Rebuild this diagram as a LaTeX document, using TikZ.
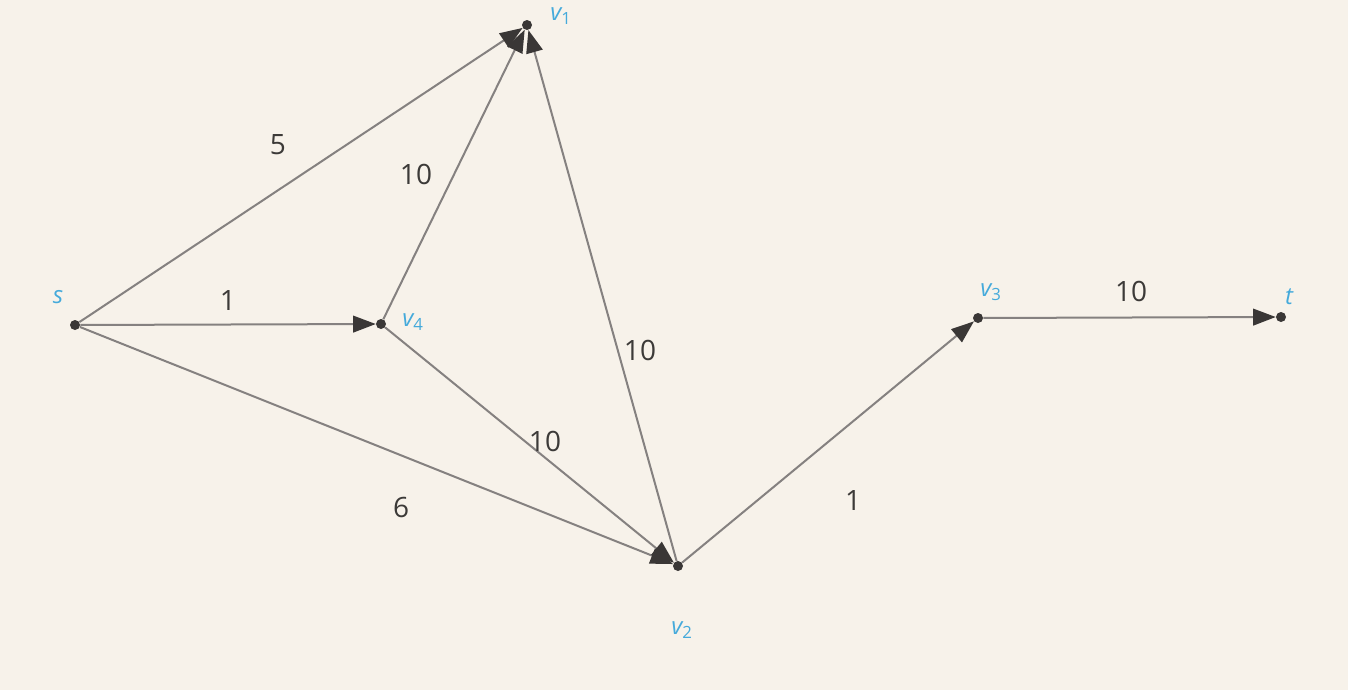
\documentclass[tikz,border=0pt]{standalone}
\usepackage{fontspec}
\setmainfont{Open Sans}
\usetikzlibrary{arrows.meta}
\definecolor{paper}{HTML}{F7F2EA}
\definecolor{edgec}{HTML}{858180}
\definecolor{tipc}{HTML}{3A3736}
\definecolor{lblc}{HTML}{3C3A38}
\definecolor{vlab}{HTML}{45AADB}
\begin{document}
\begin{tikzpicture}[x=0.75pt,y=-0.75pt,
  vert/.style={circle,fill=tipc,inner sep=0pt,minimum size=7.5pt},
  edge/.style={draw=edgec,line width=1.5pt,-{Triangle[length=17pt,width=12.5pt,fill=tipc,color=tipc]}},
  wlab/.style={text=lblc,font=\fontsize{21}{24}\selectfont},
  vlabs/.style={text=vlab,font=\fontsize{18}{21}\selectfont\itshape}]
\fill[paper] (0,0) rectangle (1348,690);
\useasboundingbox (0,0) rectangle (1348,690);
\node[vert] (s) at (75,325) {};
\node[vert] (v1) at (527,25) {};
\node[vert] (v4) at (381,324) {};
\node[vert] (v2) at (678,566) {};
\node[vert] (v3) at (978,318) {};
\node[vert] (t) at (1281,317) {};
\draw[edge] (s) -- (v1);
\draw[edge] (s) -- (v4);
\draw[edge] (s) -- (v2);
\draw[edge] (v4) -- (v1);
\draw[edge] (v2) -- (v1);
\draw[edge] (v4) -- (v2);
\draw[edge] (v2) -- (v3);
\draw[edge] (v3) -- (t);
\node[wlab] (l1) at (278,145) {5};
\node[wlab] (l2) at (416,174) {10};
\node[wlab] (l3) at (228,300) {1};
\node[wlab] (l4) at (640,350) {10};
\node[wlab] (l5) at (545,441) {10};
\node[wlab] (l6) at (401,507) {6};
\node[wlab] (l7) at (853,500) {1};
\node[wlab] (l8) at (1131,291) {10};
\node[vlabs] (ns) at (58,297) {s};
\node[vlabs] (nv1) at (561,16) {v\textsubscript{\upshape 1}};
\node[vlabs] (nv4) at (413,322) {v\textsubscript{\upshape 4}};
\node[vlabs] (nv2) at (682,630) {v\textsubscript{\upshape 2}};
\node[vlabs] (nv3) at (991,292) {v\textsubscript{\upshape 3}};
\node[vlabs] (nt) at (1289,297) {t};
\end{tikzpicture}
\end{document}
